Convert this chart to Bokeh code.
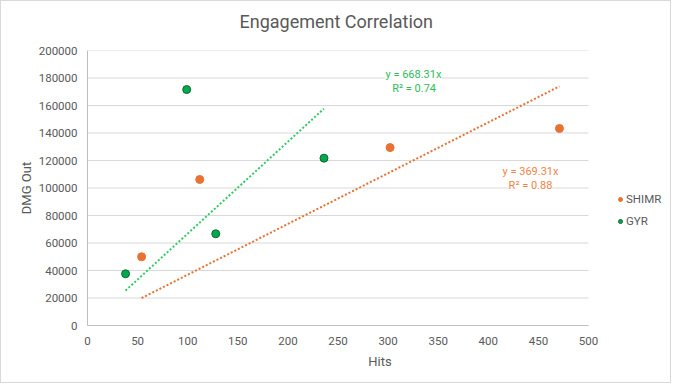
from bokeh.plotting import figure
from bokeh.models import (Label, Legend, LegendItem, Range1d, FixedTicker,
                          NumeralTickFormatter, Title)
from bokeh.embed import file_html
from bokeh.resources import INLINE

# ---- data ----
shimr_hits = [54, 112, 302, 471]
shimr_dmg = [50000, 106200, 129400, 143300]
gyr_hits = [38, 99, 128, 236]
gyr_dmg = [37600, 171600, 66700, 121700]
shimr_slope = 369.31
gyr_slope = 668.31
shimr_r2 = 0.88
gyr_r2 = 0.74
x_ticks = [0, 50, 100, 150, 200, 250, 300, 350, 400, 450, 500]
y_ticks = [0, 20000, 40000, 60000, 80000, 100000, 120000, 140000, 160000,
           180000, 200000]

FONT = "Roboto"
GRAY = "#595959"
ORANGE = "#E97132"
ORANGE_TXT = "#F08448"
GREEN_FILL = "#00A94F"
GREEN_EDGE = "#12672F"
GREEN_LINE = "#2FCB63"
GREEN_TXT = "#2DBE5E"

# figure is 671x383 plus a 1px chart border on every side
W, H = 671, 383
LEFT, RIGHT_PLOT, TOP, BOTTOM = 86, 587, 49, 324
frame_w = W - LEFT
x_max = x_ticks[-1] * frame_w / (RIGHT_PLOT - LEFT)

p = figure(width=W, height=H, output_backend="svg", toolbar_location=None,
           x_range=Range1d(0, x_max), y_range=Range1d(0, y_ticks[-1]),
           min_border_left=LEFT, min_border_right=0, min_border_top=TOP,
           min_border_bottom=H - BOTTOM)
p.styles = {"border": "1px solid #D9D9D9"}

# spacer between the frame and the title
spacer = Title(text=" ", text_font_size="2px", standoff=14)
p.add_layout(spacer, "above")

p.title.text = "Engagement Correlation"
p.title.align = "left"
p.title.offset = 152
p.title.text_font = FONT
p.title.text_font_size = "18px"
p.title.text_font_style = "normal"
p.title.text_color = GRAY
p.title.standoff = 2

p.outline_line_color = None
p.background_fill_color = "white"
p.border_fill_color = "white"

p.xgrid.grid_line_color = None
p.ygrid.grid_line_color = None
# horizontal gridlines limited to the 0..500 x extent
gl = p.segment(x0=[x_ticks[0]] * len(y_ticks), x1=[x_ticks[-1]] * len(y_ticks),
               y0=y_ticks, y1=y_ticks, line_color="#D9D9D9", line_width=1)

p.xaxis.ticker = FixedTicker(ticks=x_ticks)
p.yaxis.ticker = FixedTicker(ticks=y_ticks)
p.yaxis.formatter = NumeralTickFormatter(format="0")
p.xaxis.bounds = (x_ticks[0], x_ticks[-1])
for ax in (p.xaxis, p.yaxis):
    ax.axis_line_color = "#BFBFBF"
    ax.major_tick_line_color = None
    ax.minor_tick_line_color = None
    ax.major_tick_out = 0
    ax.major_tick_in = 0
    ax.minor_tick_out = 0
    ax.major_label_text_font = FONT
    ax.major_label_text_font_size = "11.5px"
    ax.major_label_text_color = GRAY
    ax.axis_label_text_font = FONT
    ax.axis_label_text_font_size = "13px"
    ax.axis_label_text_font_style = "normal"
    ax.axis_label_text_color = GRAY
p.xaxis.axis_label = "Hits"
p.yaxis.axis_label = "DMG Out"
p.xaxis.major_label_standoff = 11
p.yaxis.major_label_standoff = 10
p.xaxis.axis_label_standoff = 6
p.yaxis.axis_label_standoff = 2

# trendlines (through origin), spanning each series' x extent
gx = [min(gyr_hits), max(gyr_hits)]
sx = [min(shimr_hits), max(shimr_hits)]
p.line(gx, [gyr_slope * v for v in gx], line_color=GREEN_LINE, line_width=2,
       line_dash="2 2")
p.line(sx, [shimr_slope * v for v in sx], line_color=ORANGE, line_width=2,
       line_dash="2 2")

r_s = p.scatter(shimr_hits, shimr_dmg, size=8, fill_color=ORANGE,
                line_color=ORANGE, line_width=1)
r_g = p.scatter(gyr_hits, gyr_dmg, size=8, fill_color=GREEN_FILL,
                line_color=GREEN_EDGE, line_width=1)

# trendline labels
def add_label(x, y, text, color):
    p.add_layout(Label(x=x, y=y, text=text, text_align="center",
                       text_baseline="middle", text_font=FONT,
                       text_font_size="11px", text_color=color,
                       background_fill_color="white", background_fill_alpha=1.0))

add_label(325.3, 182500, f"y = {gyr_slope:.2f}x", GREEN_TXT)
add_label(326.0, 172400, f"R² = {gyr_r2:.2f}", GREEN_TXT)
add_label(442.1, 112000, f"y = {shimr_slope:.2f}x", ORANGE_TXT)
add_label(442.1, 101800, f"R² = {shimr_r2:.2f}", ORANGE_TXT)

# legend (small markers)
l_s = p.scatter([0], [0], size=6, fill_color=ORANGE, line_color=ORANGE, visible=False)
l_g = p.scatter([0], [0], size=6, fill_color=GREEN_FILL, line_color=GREEN_EDGE, visible=False)
legend = Legend(items=[LegendItem(label="SHIMR", renderers=[l_s]),
                       LegendItem(label="GYR", renderers=[l_g])],
                location=(528, 97), margin=0, padding=2, spacing=8,
                glyph_width=10, glyph_height=14, label_height=14,
                label_standoff=1, border_line_color=None,
                background_fill_alpha=0,
                label_text_font=FONT, label_text_font_size="11.5px",
                label_text_color=GRAY)
p.add_layout(legend, "center")

open("out.html", "w").write(file_html(p, INLINE))
